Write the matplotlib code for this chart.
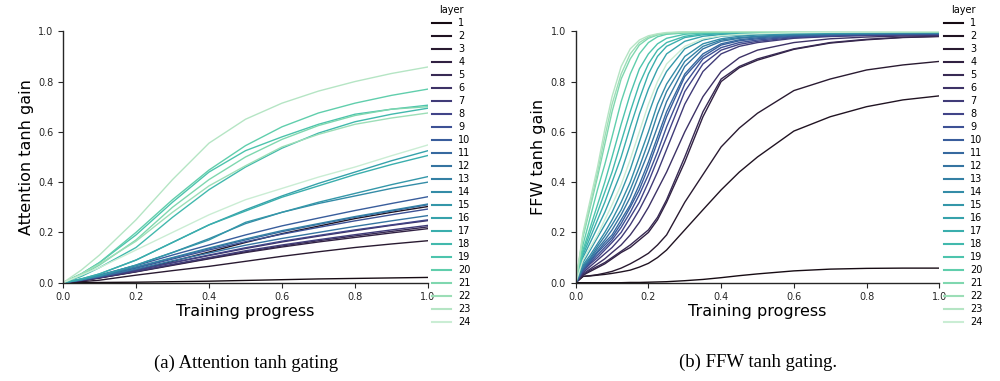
import matplotlib
matplotlib.use("Agg")
import matplotlib.pyplot as plt
import seaborn as sns

# training progress sample points
x_att = [0, 0.05, 0.1, 0.2, 0.3, 0.4, 0.5, 0.6, 0.7, 0.8, 0.9, 1.0]
x_ffw = [0, 0.02, 0.04, 0.06, 0.08, 0.1, 0.125, 0.15, 0.175, 0.2, 0.225, 0.25,
         0.3, 0.35, 0.4, 0.45, 0.5, 0.6, 0.7, 0.8, 0.9, 1.0]

layers = list(range(1, 25))

# attention tanh gain per layer
att_gain = {
    1: [0, 0.0005, 0.001, 0.002, 0.004, 0.006, 0.009, 0.012, 0.015, 0.017, 0.019, 0.021],
    2: [0, 0.008, 0.02, 0.05, 0.085, 0.122, 0.16, 0.195, 0.225, 0.255, 0.28, 0.303],
    3: [0, 0.004, 0.01, 0.03, 0.048, 0.065, 0.085, 0.105, 0.123, 0.14, 0.154, 0.167],
    4: [0, 0.008, 0.019, 0.043, 0.069, 0.095, 0.12, 0.142, 0.162, 0.18, 0.198, 0.215],
    5: [0, 0.009, 0.019, 0.044, 0.071, 0.097, 0.123, 0.146, 0.167, 0.186, 0.204, 0.222],
    6: [0, 0.01, 0.022, 0.049, 0.079, 0.108, 0.136, 0.162, 0.185, 0.207, 0.228, 0.247],
    7: [0, 0.009, 0.02, 0.045, 0.073, 0.1, 0.127, 0.15, 0.171, 0.191, 0.21, 0.228],
    8: [0, 0.01, 0.022, 0.05, 0.08, 0.11, 0.139, 0.165, 0.188, 0.21, 0.23, 0.25],
    9: [0, 0.011, 0.026, 0.058, 0.094, 0.13, 0.163, 0.193, 0.22, 0.246, 0.27, 0.293],
    10: [0, 0.014, 0.031, 0.068, 0.11, 0.15, 0.19, 0.226, 0.257, 0.287, 0.315, 0.342],
    11: [0, 0.012, 0.027, 0.06, 0.098, 0.135, 0.17, 0.203, 0.232, 0.26, 0.285, 0.31],
    12: [0, 0.011, 0.024, 0.054, 0.087, 0.118, 0.149, 0.176, 0.2, 0.224, 0.246, 0.267],
    13: [0, 0.013, 0.028, 0.063, 0.1, 0.138, 0.174, 0.207, 0.235, 0.263, 0.288, 0.313],
    14: [0, 0.012, 0.028, 0.07, 0.12, 0.175, 0.235, 0.28, 0.315, 0.345, 0.375, 0.40],
    15: [0, 0.012, 0.028, 0.07, 0.12, 0.17, 0.24, 0.28, 0.32, 0.355, 0.39, 0.422],
    16: [0, 0.015, 0.035, 0.09, 0.16, 0.23, 0.29, 0.345, 0.395, 0.44, 0.485, 0.525],
    17: [0, 0.015, 0.035, 0.09, 0.16, 0.23, 0.285, 0.34, 0.385, 0.43, 0.47, 0.506],
    18: [0, 0.025, 0.06, 0.14, 0.26, 0.37, 0.46, 0.535, 0.595, 0.64, 0.67, 0.694],
    19: [0, 0.035, 0.08, 0.19, 0.32, 0.44, 0.525, 0.58, 0.63, 0.67, 0.69, 0.706],
    20: [0, 0.035, 0.08, 0.2, 0.33, 0.448, 0.545, 0.62, 0.675, 0.714, 0.745, 0.77],
    21: [0, 0.03, 0.07, 0.17, 0.3, 0.41, 0.5, 0.57, 0.625, 0.665, 0.69, 0.70],
    22: [0, 0.035, 0.075, 0.165, 0.28, 0.385, 0.465, 0.54, 0.59, 0.63, 0.655, 0.675],
    23: [0, 0.05, 0.11, 0.25, 0.41, 0.555, 0.65, 0.714, 0.762, 0.80, 0.832, 0.858],
    24: [0, 0.03, 0.06, 0.13, 0.2, 0.27, 0.33, 0.375, 0.42, 0.46, 0.505, 0.548],
}

# FFW tanh gain per layer
ffw_gain = {
    1: [0, 0, 0, 0, 0, 0, 0, .001, .001, .002, .003, .004,
        .008, .013, .02, .028, .035, .047, .054, .057, .058, .058],
    2: [0, .025, .027, .03, .033, .037, .043, .05, .062, .077, .10, .13,
        .21, .29, .369, .44, .50, .603, .66, .70, .727, .743],
    3: [0, .025, .028, .032, .038, .045, .058, .075, .095, .117, .15, .19,
        .32, .43, .54, .615, .674, .764, .81, .846, .866, .88],
    4: [0, .03, .045, .06, .075, .095, .12, .14, .17, .20, .25, .32,
        .48, .66, .80, .855, .885, .928, .953, .966, .975, .979],
    5: [0, .03, .05, .065, .08, .10, .125, .15, .18, .21, .26, .33,
        .50, .68, .81, .86, .89, .93, .955, .968, .976, .98],
    6: [0, .035, .055, .075, .095, .12, .15, .19, .24, .30, .37, .44,
        .60, .74, .84, .895, .925, .955, .97, .977, .981, .983],
    7: [0, .04, .065, .09, .115, .14, .18, .23, .29, .36, .44, .53,
        .71, .84, .91, .94, .955, .972, .979, .983, .985, .986],
    8: [0, .045, .075, .10, .13, .16, .20, .26, .32, .40, .49, .58,
        .76, .87, .925, .948, .96, .975, .981, .984, .986, .987],
    9: [0, .05, .08, .11, .14, .17, .22, .28, .35, .43, .52, .62,
        .79, .89, .935, .955, .965, .978, .983, .986, .988, .989],
    10: [0, .05, .085, .12, .15, .18, .235, .30, .37, .46, .56, .66,
         .82, .90, .945, .962, .97, .98, .985, .988, .989, .99],
    11: [0, .055, .09, .125, .16, .19, .25, .31, .39, .48, .58, .68,
         .83, .91, .95, .966, .974, .983, .987, .989, .99, .991],
    12: [0, .06, .095, .135, .17, .21, .27, .34, .43, .52, .62, .72,
         .86, .93, .96, .972, .978, .985, .988, .99, .991, .992],
    13: [0, .065, .10, .145, .185, .23, .29, .37, .46, .56, .67, .76,
         .88, .94, .965, .975, .98, .987, .99, .991, .992, .993],
    14: [0, .07, .11, .155, .20, .25, .32, .40, .50, .60, .71, .79,
         .90, .95, .97, .98, .985, .99, .992, .993, .994, .994],
    15: [0, .08, .13, .18, .23, .28, .36, .45, .56, .67, .77, .84,
         .93, .965, .98, .985, .988, .991, .993, .994, .995, .995],
    16: [0, .10, .16, .22, .28, .35, .44, .55, .67, .77, .85, .91,
         .96, .98, .987, .99, .991, .993, .994, .995, .996, .996],
    17: [0, .11, .18, .25, .32, .40, .50, .62, .73, .83, .90, .94,
         .975, .986, .99, .992, .993, .994, .995, .996, .996, .997],
    18: [0, .12, .20, .28, .36, .44, .56, .68, .79, .87, .925, .955,
         .98, .99, .993, .994, .995, .996, .996, .997, .997, .997],
    19: [0, .13, .22, .31, .40, .50, .63, .75, .85, .91, .95, .972,
         .988, .993, .995, .996, .996, .997, .997, .997, .998, .998],
    20: [0, .15, .26, .37, .47, .58, .72, .83, .91, .955, .978, .988,
         .993, .995, .996, .997, .997, .997, .998, .998, .998, .998],
    21: [0, .18, .30, .42, .55, .68, .81, .89, .945, .972, .985, .991,
         .995, .996, .997, .997, .998, .998, .998, .998, .998, .998],
    22: [0, .19, .31, .44, .58, .71, .83, .91, .955, .977, .988, .993,
         .997, .998, .998, .998, .998, .998, .998, .998, .998, .998],
    23: [0, .20, .33, .46, .61, .74, .86, .93, .965, .982, .99, .995,
         .998, .999, .999, .999, .999, .999, .999, .999, .999, .999],
    24: [0, .09, .14, .19, .25, .31, .39, .49, .60, .71, .80, .87,
         .94, .97, .982, .987, .99, .994, .996, .997, .998, .999],
}

# one mako colour per layer
colors = sns.color_palette("mako", len(layers))

plt.rcParams["font.family"] = "DejaVu Sans"
plt.rcParams["axes.edgecolor"] = ".15"
plt.rcParams["xtick.color"] = ".15"
plt.rcParams["ytick.color"] = ".15"

fig = plt.figure(figsize=(10, 3.81), dpi=100)
ax_a = fig.add_axes([0.063, 0.258, 0.365, 0.66])
ax_b = fig.add_axes([0.5757, 0.258, 0.3636, 0.66])

panels = [(ax_a, x_att, att_gain, "Attention tanh gain", 0.432),
          (ax_b, x_ffw, ffw_gain, "FFW tanh gain", 0.944)]

for ax, xs, gains, ylab, leg_x in panels:
    for i, layer in enumerate(layers):
        ax.plot(xs, gains[layer], color=colors[i], lw=1.0, label=str(layer))
    ax.set_xlim(0, 1)
    ax.set_ylim(0, 1)
    ax.set_xticks([0, 0.2, 0.4, 0.6, 0.8, 1.0])
    ax.set_yticks([0, 0.2, 0.4, 0.6, 0.8, 1.0])
    ax.tick_params(labelsize=7, length=3.5, width=0.8)
    ax.spines["top"].set_visible(False)
    ax.spines["right"].set_visible(False)
    ax.spines["left"].set_linewidth(1.0)
    ax.spines["bottom"].set_linewidth(1.0)
    ax.set_xlabel("Training progress", fontsize=11.5, labelpad=1)
    ax.set_ylabel(ylab, fontsize=11.5, labelpad=3)
    leg = fig.legend(*ax.get_legend_handles_labels(), title="layer", loc="upper left",
                     bbox_to_anchor=(leg_x, 0.987), frameon=False, fontsize=7,
                     title_fontsize=7, handlelength=2.0, handletextpad=0.7,
                     labelspacing=0.31, borderpad=0, borderaxespad=0)
    for line in leg.get_lines():
        line.set_linewidth(1.5)

fig.text(0.246, 1 - 368 / 381, "(a) Attention tanh gating", ha="center", va="baseline",
         fontsize=13.5, family="Liberation Serif")
fig.text(0.758, 1 - 367 / 381, "(b) FFW tanh gating.", ha="center", va="baseline",
         fontsize=13.5, family="Liberation Serif")

fig.savefig("out.png", dpi=100)
